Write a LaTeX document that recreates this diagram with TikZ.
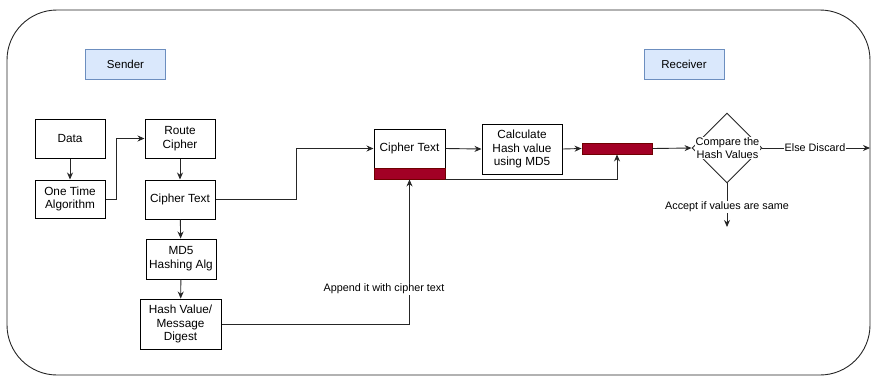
\documentclass[tikz,border=0pt]{standalone}
\usepackage{fontspec}
\setmainfont{Liberation Sans}
\usetikzlibrary{shapes.geometric,arrows.meta}
\definecolor{linegray}{HTML}{262626}
\definecolor{hashred}{HTML}{A20025}
\definecolor{hashredline}{HTML}{6F0000}
\definecolor{rolefill}{HTML}{DAE8FC}
\definecolor{roleline}{HTML}{6C8EBF}
\begin{document}
\begin{tikzpicture}[x=1pt,y=-1pt,line width=0.9pt,
  stepbox/.style={draw=black,fill=white,align=center,inner sep=1pt,line width=1pt,
    font=\fontsize{11.8}{13.8}\selectfont},
  rolebox/.style={draw=roleline,fill=rolefill,minimum width=80,minimum height=30,
    font=\fontsize{11.5}{13.5}\selectfont},
  redbar/.style={draw=hashredline,fill=hashred,inner sep=0pt},
  flow/.style={-{Stealth[length=7pt,width=6pt]},draw=linegray},
  edgelab/.style={fill=white,inner sep=1pt,font=\fontsize{10.8}{12}\selectfont}]
\useasboundingbox (0,0) rectangle (872,376);
\draw[linegray,rounded corners=50] (7,10) rectangle (870,375);

\node[rolebox] (sender) at (125.5,64) {Sender};
\node[rolebox] (receiver) at (684,64) {Receiver};

% sender side
\node[stepbox,minimum width=70,minimum height=39] (data) at (70,138.5) {Data};
\node[stepbox,minimum width=70,minimum height=38] (ota) at (70,199) {One Time\\Algorithm};
\node[stepbox,minimum width=70,minimum height=39] (route) at (180,138.5) {Route\\Cipher};
\node[stepbox,minimum width=70,minimum height=39] (ct1) at (180,199.5) {Cipher Text};
\node[stepbox,minimum width=70,minimum height=40] (md5) at (181,259) {MD5\\Hashing Alg};
\node[stepbox,minimum width=81,minimum height=50] (hv) at (180.5,324) {Hash Value/\\Message\\Digest};

% receiver side
\node[stepbox,minimum width=71,minimum height=39] (ct2) at (409.5,148.5) {Cipher Text};
\node[redbar,minimum width=71,minimum height=11] (strip) at (409.5,173.5) {};
\node[stepbox,minimum width=80,minimum height=50] (calc) at (522,149) {Calculate\\Hash value\\using MD5};
\node[redbar,minimum width=70,minimum height=11] (bar) at (617,148.5) {};
\node[draw=linegray,diamond,minimum width=70,minimum height=70,inner sep=0pt] (cmp) at (727,148) {};
\node[fill=white,inner sep=0.5pt,align=center,font=\fontsize{11}{13}\selectfont] (cmptxt) at (727.5,148) {Compare the\\Hash Values};
\coordinate (discard) at (870,148);
\coordinate (accept) at (727,227);

\draw[flow] (data) -- (ota);
\draw[flow] (ota.east) -- (116,199) |- (route.west);
\draw[flow] (route) -- (ct1);
\draw[flow] (ct1) -- (md5);
\draw[flow] (md5) -- (hv);
\draw[flow] (ct1.east) -- (296,199.5) |- (ct2.west);
\draw[flow] (hv.east) -| (strip.south);
\node[edgelab] (appendlab) at (384,289) {Append it with cipher text};
\draw[flow] (ct2.east) -- (calc.west);
\draw[flow] (calc.east) -- (bar.west);
\draw[flow] (strip.south east) -| (bar.south);
\draw[flow] (bar.east) -- (cmp.west);
\draw[flow] (cmp.east) -- (discard);
\node[edgelab] (elselab) at (815,148) {Else Discard};
\draw[flow] (cmp.south) -- (accept);
\node[edgelab] (acceptlab) at (727,207) {Accept if values are same};
\end{tikzpicture}
\end{document}
